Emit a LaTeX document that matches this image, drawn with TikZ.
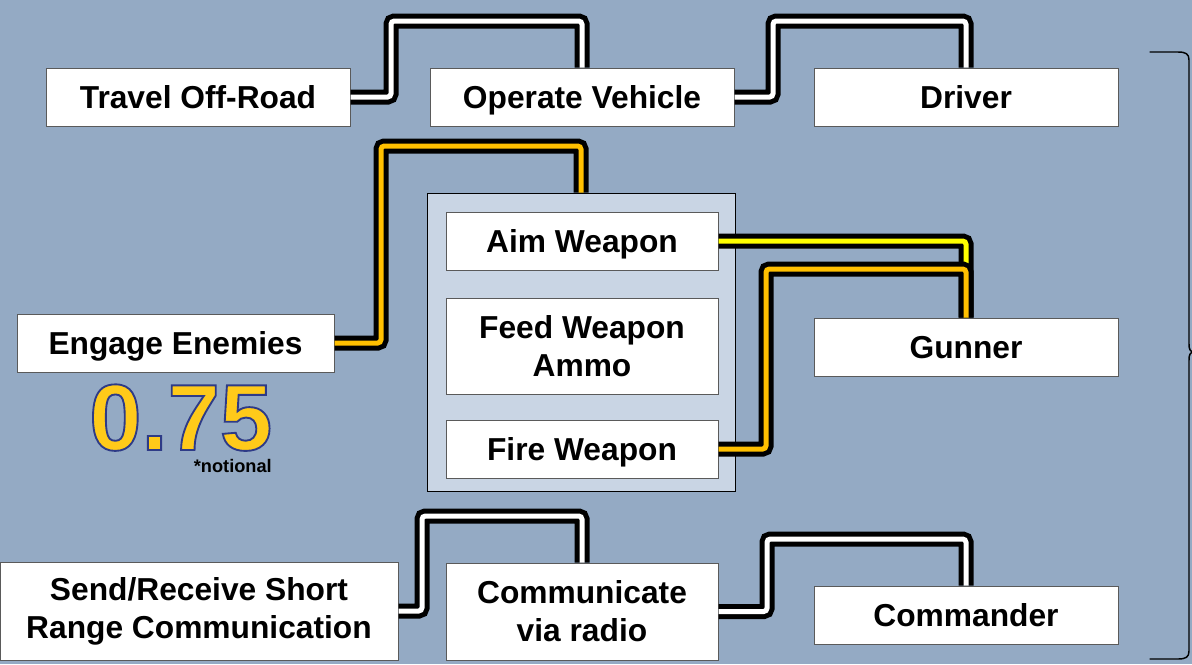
\documentclass[tikz,border=0pt]{standalone}
\usepackage{fontspec}
\setmainfont{Liberation Sans}
\usepackage{tikz}

\definecolor{bgblue}{HTML}{94AAC4}
\definecolor{panel}{HTML}{C9D5E4}
\definecolor{boxline}{HTML}{5A5A5A}
\definecolor{amber}{HTML}{FFC000}
\definecolor{lemon}{HTML}{FFFF00}
\definecolor{navy}{HTML}{2E3A87}
\definecolor{gold}{HTML}{FFCA1A}

\newcommand\labelfont{\fontsize{23.8}{28.5}\selectfont\bfseries}
\newcommand\rimtext[1]{\special{pdf:literal direct 0.18 0.23 0.53 RG 1.4 w 2 Tr}#1\special{pdf:literal direct 0 Tr}}

\begin{document}
\begin{tikzpicture}[x=0.75pt,y=-0.75pt,
box/.style={draw=boxline,line width=0.75pt,fill=white,minimum width=228pt,minimum height=43.5pt,inner sep=0pt,align=center,font=\labelfont},
tag/.style={box,text height=17pt,text depth=0pt},
slot/.style={minimum width=204pt},
wire/.style={draw=black,line width=3.75pt,double=#1,double distance=3.75pt,rounded corners=2.5pt},
wire/.default=white,
score/.style={anchor=base west,inner sep=0pt,font=\fontsize{70.5}{72}\selectfont\bfseries},
bracket/.style={line width=1.1pt,line cap=round} ]

\useasboundingbox (0,0) rectangle (1192,664);
\fill[bgblue] (0,0) rectangle (1192,664);

\node[tag](travel) at (198,97) {Travel Off-Road};

\node[tag](operate) at (582,97) {Operate Vehicle};

\node[tag](driver) at (966,97) {Driver};

\node[tag,minimum width=237.75pt](engage) at (175.5,343) {Engage Enemies};

\node[draw=black,line width=0.75pt,fill=panel,minimum width=231pt,minimum height=223.5pt,inner sep=0pt](weapon) at (581,342) {};

\node[tag,slot](aim) at (582,241) {Aim Weapon};

\node[box,slot,minimum height=72pt](feed) at (582,346) {Feed Weapon\\Ammo};

\node[tag,slot](fire) at (582,449) {Fire Weapon};

\node[tag](gunner) at (966,347) {Gunner};

\node[box,minimum width=298.5pt,minimum height=73.5pt](send) at (199,611) {Send/Receive Short\\Range Communication};

\node[box,slot,minimum height=72.75pt](radio) at (582,611.5) {Communicate\\via radio};

\node[tag](commander) at (966,615) {Commander};

\draw[wire] (travel.east) -| (391,21) -| (operate.north);

\draw[wire] (operate.east) -| (773,21) -| (driver.north);

\draw[wire=amber] (engage.east) -| (381,146) -| (weapon.north);

\draw[wire=lemon] (aim.east) -| (gunner.north);

\draw[wire=amber] (fire.east) -| (766,269) -| (gunner.north);

\draw[wire] (send.east) -| (422,516) -| (radio.north);

\draw[wire] (radio.east) -| (767,539) -| (commander.north);

\node[score,text=gold](ratio) at (89,450) {\rimtext{0.75}};

\node[anchor=base east,inner sep=0pt,font=\fontsize{13.65}{14}\selectfont\bfseries](note) at (272,472) {*notional};

\draw[bracket] (1150,52) -- (1178,52) .. controls (1186,52) and (1189,54) .. (1189,60) -- (1189,344) .. controls (1189,349) and (1190,352) .. (1194,352) .. controls (1190,352) and (1189,355) .. (1189,360) -- (1189,651) .. controls (1189,657) and (1186,659) .. (1178,659) -- (1150,659);
\end{tikzpicture}
\end{document}
